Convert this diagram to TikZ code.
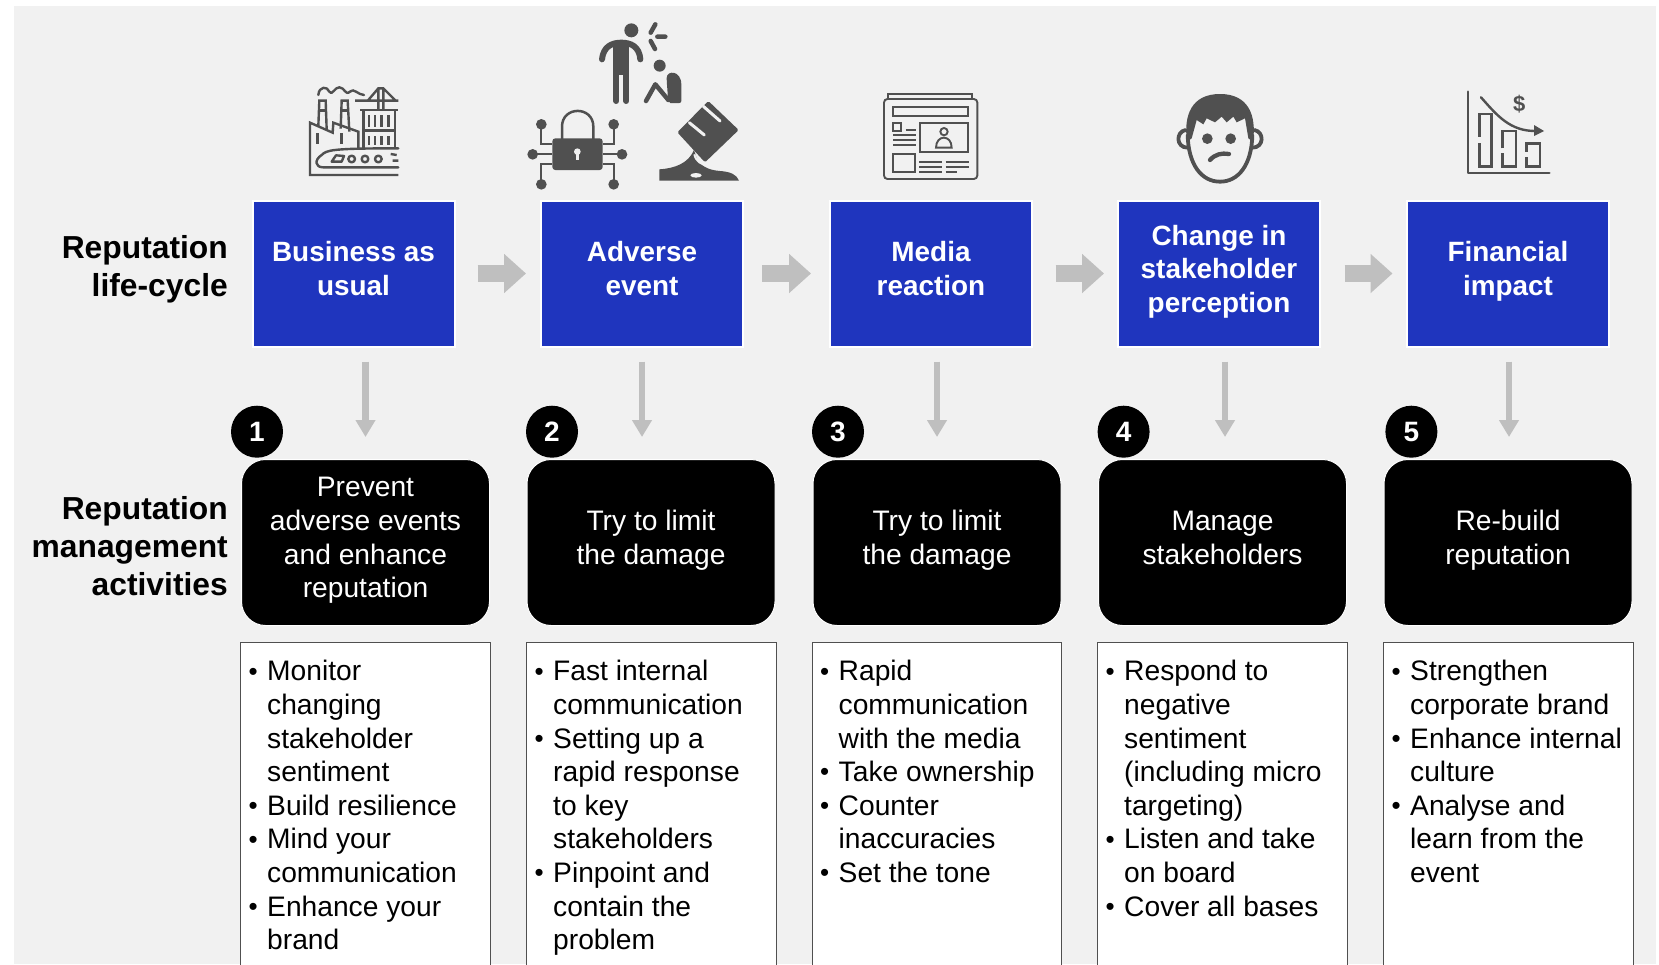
\documentclass[tikz,border=0pt]{standalone}
\usepackage{fontspec}
\setmainfont{Liberation Sans}
\usetikzlibrary{arrows.meta,calc}
\definecolor{bgc}{HTML}{F1F1F1}
\definecolor{bluec}{HTML}{1F35BE}
\definecolor{arrowc}{HTML}{BFBFBF}
\definecolor{iconc}{HTML}{505050}
\newcommand\bu{\makebox[19.5pt][l]{\hspace*{0.8pt}\fontsize{26pt}{26pt}\selectfont\raisebox{0.8pt}{•}}}
\newcommand\ind{\hspace*{19.5pt}}
\newcommand\sxtop[1]{\rule{0pt}{#1}}
\newcommand\sxbot{\rule[-10pt]{0pt}{10pt}}
\tikzset{
  x=1pt,y=-1pt,
  bluebox/.style={draw=white,line width=2pt,fill=bluec,minimum width=202pt,minimum height=146pt,inner sep=0pt,align=center,text=white,font=\fontsize{27.9pt}{33.5pt}\selectfont\bfseries,execute at begin node=\sxtop{36pt},execute at end node=\sxbot},
  blackbox/.style={draw=white,line width=1pt,fill=black,rounded corners=24pt,minimum width=248pt,minimum height=166pt,inner sep=0pt,align=center,text=white,font=\fontsize{28.2pt}{33.7pt}\selectfont,execute at begin node=\sxtop{39pt},execute at end node=\sxbot},
  listbox/.style={draw=iconc,line width=1.2pt,fill=white,anchor=north west,minimum width=249.5pt,minimum height=340pt,inner sep=0pt},
  listtext/.style={anchor=north west,inner sep=0pt,align=left,font=\fontsize{28.2pt}{33.6pt}\selectfont},
  numc/.style={circle,fill=black,draw=none,minimum size=52pt,inner sep=0pt,text=white,font=\fontsize{28pt}{30pt}\selectfont\bfseries},
  headl/.style={anchor=east,align=right,inner sep=0pt,font=\fontsize{31.8pt}{38pt}\selectfont\bfseries},
  flowarrow/.style={draw=arrowc,line width=17pt,-{Triangle[width=38pt,length=22pt,fill=arrowc]}},
  downarrow/.style={draw=arrowc,line width=6.5pt,-{Triangle[width=19pt,length=17pt,fill=arrowc]}},
  ic/.style={draw=iconc,line width=2.4pt,fill=none,line cap=butt,line join=miter},
  icr/.style={draw=iconc,line width=2.4pt,fill=none,line cap=round,line join=round},
  third/.style={x=0.33333pt,y=-0.33333pt},
}
\begin{document}
\begin{tikzpicture}
\useasboundingbox (0,0) rectangle (1659,964);
\clip (0,0) rectangle (1659,964);
\fill[white] (0,0) rectangle (1659,964);
\fill[bgc] (14,6) rectangle (1656,964);

\node[headl] (h1) at (228,269) {Reputation\\life-cycle};
\node[headl] (h2) at (228,546) {Reputation\\management\\activities};

\node[bluebox] (b1) at (353.5,273.5) {Business as\\usual};
\node[bluebox] (b2) at (642,273.5) {Adverse\\event};
\node[bluebox] (b3) at (931,273.5) {Media\\reaction};
\node[bluebox] (b4) at (1219,273.5) {Change in\\stakeholder\\perception};
\node[bluebox] (b5) at (1508,273.5) {Financial\\impact};

\draw[flowarrow,shorten <=22pt,shorten >=14pt] (b1) -- (b2);
\draw[flowarrow,shorten <=18pt,shorten >=18pt] (b2) -- (b3);
\draw[flowarrow,shorten <=22.5pt,shorten >=13pt] (b3) -- (b4);
\draw[flowarrow,shorten <=23.5pt,shorten >=13.5pt] (b4) -- (b5);

\node[blackbox] (k1) at (365.5,542.5) {Prevent\\adverse events\\and enhance\\reputation};
\node[blackbox] (k2) at (651,542.5) {Try to limit\\the damage};
\node[blackbox] (k3) at (937,542.5) {Try to limit\\the damage};
\node[blackbox] (k4) at (1222.5,542.5) {Manage\\stakeholders};
\node[blackbox] (k5) at (1508,542.5) {Re-build\\reputation};

\foreach \n/\x/\y in {1/257/431.7,2/552/431.7,3/838/431.7,4/1123.6/431.7,5/1411.4/431.7}{
  \node[numc] (n\n) at (\x,\y) {\n};
}

\coordinate (s1) at (365.5,361.5); \coordinate (e1) at (365.5,437);
\coordinate (s2) at (642,361.5); \coordinate (e2) at (642,437);
\coordinate (s3) at (937,361.5); \coordinate (e3) at (937,437);
\coordinate (s4) at (1225,361.5); \coordinate (e4) at (1225,437);
\coordinate (s5) at (1509,361.5); \coordinate (e5) at (1509,437);
\foreach \n in {1,...,5}{\draw[downarrow] (s\n) -- (e\n);}

\node[listbox] (l1) at (240.2,642) {};
\node[listbox] (l2) at (526,642) {};
\node[listbox] (l3) at (811.5,642) {};
\node[listbox] (l4) at (1097,642) {};
\node[listbox] (l5) at (1383,642) {};
\node[listtext] (t1) at (247.5,660.3) {\bu Monitor\\\ind changing\\\ind stakeholder\\\ind sentiment\\\bu Build resilience\\\bu Mind your\\\ind communication\\\bu Enhance your\\\ind brand};
\node[listtext] (t2) at (533.5,660.3) {\bu Fast internal\\\ind communication\\\bu Setting up a\\\ind rapid response\\\ind to key\\\ind stakeholders\\\bu Pinpoint and\\\ind contain the\\\ind problem};
\node[listtext] (t3) at (819,660.3) {\bu Rapid\\\ind communication\\\ind with the media\\\bu Take ownership\\\bu Counter\\\ind inaccuracies\\\bu Set the tone};
\node[listtext] (t4) at (1104.5,660.3) {\bu Respond to\\\ind negative\\\ind sentiment\\\ind (including micro\\\ind targeting)\\\bu Listen and take\\\ind on board\\\bu Cover all bases};
\node[listtext] (t5) at (1390.5,660.3) {\bu Strengthen\\\ind corporate brand\\\bu Enhance internal\\\ind culture\\\bu Analyse and\\\ind learn from the\\\ind event};

% factory icon
\begin{scope}[shift={(300,80)},third]
 \draw[ic] (295,285)--(30,285)--(30,128)--(98,158)--(100,128)--(175,155)--(175,205);
 \draw[ic] (55,138)--(58,62)--(77,62)--(80,148) (122,146)--(125,62)--(143,62)--(148,155);
 \draw[ic] (56,92)--(79,92) (123,92)--(146,92);
 \draw[icr] (55,45) .. controls (57,18) and (82,18) .. (88,35) .. controls (95,50) and (105,20) .. (118,22) .. controls (135,22) and (135,48) .. (150,35) .. controls (160,22) and (175,45) .. (192,45);
 \draw[ic] (165,62)--(295,62) (205,60)--(235,25)--(250,25)--(285,60) (235,25)--(235,88) (250,25)--(250,88);
 \draw[ic] (180,90)--(295,90) (190,90)--(190,205) (285,90)--(285,205) (190,152)--(285,152);
 \foreach \a in {207,225,245,265}{\draw[ic] (\a,105)--(\a,140) (\a,168)--(\a,195);}
 \draw[ic] (52,160)--(52,192) (125,160)--(125,192);
 \draw[icr] (295,262)--(70,262) .. controls (45,262) and (42,240) .. (65,225) .. controls (80,210) and (95,205) .. (295,205);
 \draw[icr] (95,245)--(125,245)--(132,228)--(108,226)--cycle;
 \foreach \a in {155,195,235}{\draw[icr] (\a,237) circle[radius=10];}
 \draw[ic] (272,222)--(290,225) (278,242)--(295,242);
\end{scope}

% adverse-event icons
\begin{scope}[shift={(520,15)},third]
 \fill[iconc] (334,46) circle[radius=21];
 \draw[iconc,line width=6pt,line cap=round] (246,133) .. controls (250,95) and (275,83) .. (304,83) .. controls (333,83) and (358,95) .. (361,133);
 \fill[iconc] (280,85) rectangle (328,180);
 \draw[iconc,line width=6pt,line cap=round] (289,170)--(289,258) (319,170)--(319,258);
 \draw[iconc,line width=4.5pt,line cap=round] (406,28)--(392,53) (412,65)--(436,65) (392,78)--(405,102);
 \fill[iconc] (419,152) circle[radius=18];
 \fill[iconc,rounded corners=2pt] (445,264)--(440,195) .. controls (440,165) and (484,165) .. (484,215)--(484,264)--cycle;
 \draw[iconc,line width=4.5pt,line cap=round,line join=round] (378,258)--(406,208)--(445,255);
 \draw[iconc,line width=2.5pt] (126,372)--(126,335) .. controls (126,272) and (220,272) .. (220,335)--(220,372);
 \fill[iconc,rounded corners=3pt] (97,370) rectangle (248,465);
 \fill[bgc] (172,410) circle[radius=10];
 \fill[bgc] (168,412) rectangle (176,435);
 \draw[iconc,line width=2.2pt] (64,328)--(64,388)--(97,388) (38,418)--(97,418) (64,508)--(64,448)--(97,448) (281,328)--(281,388)--(248,388) (306,418)--(248,418) (281,508)--(281,448)--(248,448);
 \foreach \a/\b in {64/328,281/328,38/418,306/418,64/508,281/508}{\fill[iconc] (\a,\b) circle[radius=16];}
 \fill[iconc] (418,497)--(418,463) .. controls (465,460) and (505,445) .. (522,405)--(530,430) .. controls (540,450) and (560,465) .. (600,468) .. controls (630,470) and (650,478) .. (657,497)--cycle;
 \fill[iconc,rounded corners=1.5pt] (472,352)--(565,258)--(656,345)--(555,442)--cycle;
 \draw[bgc,line width=3pt,line cap=round] (508,323)--(553,360) (550,274)--(600,318);
 \draw[bgc,line width=2pt] (523,418) .. controls (528,440) and (545,450) .. (565,450);
 \fill[bgc] (528,481) ellipse[x radius=17,y radius=7];
\end{scope}

% newspaper
\begin{scope}[shift={(870,85)},third]
 \tikzset{ic/.append style={line width=1.9pt}}
 \draw[ic] (55,40)--(55,28)--(305,28)--(305,40);
 \draw[ic,rounded corners=3.5pt] (42,42)--(322,42)--(322,282)--(42,282)--cycle;
 \draw[ic] (70,65) rectangle (295,93) (70,113) rectangle (93,137) (150,115) rectangle (295,202) (70,208) rectangle (135,260);
 \draw[ic] (107,135)--(138,135) (70,150)--(138,150) (70,165)--(138,165) (70,180)--(138,180) (147,230)--(215,230) (227,230)--(297,230) (147,245)--(215,245) (227,245)--(297,245) (147,260)--(215,260) (227,260)--(260,260);
 \draw[ic] (222,140) circle[radius=11];
 \draw[ic] (198,188) .. controls (198,148) and (245,148) .. (245,188)--cycle;
\end{scope}

% face
\begin{scope}[shift={(1165,85)},third]
 \draw[iconc,line width=3.8pt,line cap=round] (68,150) .. controls (70,240) and (110,290) .. (165,290) .. controls (220,290) and (260,240) .. (262,150);
 \draw[iconc,line width=3.8pt,line cap=round] (62,135) .. controls (32,140) and (32,188) .. (68,188);
 \draw[iconc,line width=3.8pt,line cap=round] (268,135) .. controls (298,140) and (298,188) .. (262,188);
 \fill[iconc] (66,170) .. controls (55,90) and (80,27) .. (165,27) .. controls (250,27) and (275,90) .. (264,170)--(250,160)--(240,100)--(215,112)--(205,95)--(185,112)--(170,95)--(150,112)--(125,100)--(115,118)--(95,105)--(80,160)--cycle;
 \fill[iconc] (127,161) circle[radius=16];
 \fill[iconc] (197,161) circle[radius=16];
 \draw[iconc,line width=4.3pt,line cap=round] (135,225) .. controls (150,208) and (170,203) .. (192,207);
\end{scope}

% falling chart
\begin{scope}[shift={(1380,0)},third]
 \draw[icr,line width=2.6pt] (264,275)--(264,519)--(508,519);
 \draw[ic] (298,410)--(298,342)--(335,342)--(335,500)--(298,500)--(298,428);
 \draw[ic] (368,445)--(368,393)--(408,393)--(408,500)--(368,500)--(368,458);
 \draw[ic] (440,472)--(440,500)--(480,500)--(480,430)--(440,430)--(440,455);
 \draw[icr] (303,292) .. controls (350,345) and (390,395) .. (470,393);
 \fill[iconc] (462,375)--(492,393)--(462,408)--cycle;
 \node[text=iconc,inner sep=0pt,font=\fontsize{22pt}{22pt}\selectfont\bfseries] (dollar) at (418,313) {\$};
\end{scope}
\end{tikzpicture}
\end{document}
